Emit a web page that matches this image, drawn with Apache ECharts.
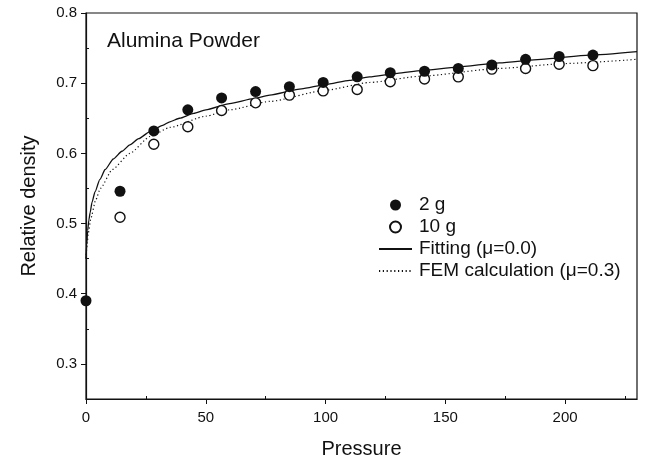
<!DOCTYPE html>
<html>
<head>
<meta charset="utf-8">
<script src="https://cdn.jsdelivr.net/npm/echarts@6/dist/echarts.min.js"></script>
<style>
  html, body { margin: 0; padding: 0; background: #ffffff; }
  #chart { width: 645px; height: 464px; }
</style>
</head>
<body>
<div id="chart"></div>
<script>
// Measured relative density of alumina powder vs. compaction pressure
const pressure2g = [0, 14.2, 28.3, 42.5, 56.6, 70.8, 84.9, 99.0, 113.2, 127.0, 141.3, 155.4, 169.4, 183.5, 197.5, 211.6];
const density2g  = [0.390, 0.546, 0.632, 0.662, 0.679, 0.688, 0.695, 0.701, 0.709, 0.715, 0.717, 0.721, 0.726, 0.734, 0.738, 0.740];

const pressure10g = [14.2, 28.3, 42.5, 56.6, 70.8, 84.9, 99.0, 113.2, 127.0, 141.3, 155.4, 169.4, 183.5, 197.5, 211.6];
const density10g  = [0.509, 0.613, 0.638, 0.661, 0.672, 0.683, 0.689, 0.691, 0.702, 0.706, 0.709, 0.720, 0.721, 0.727, 0.725];

// Fitted curve (mu = 0.0)
const fitPressure = [0, 0.3, 0.7, 1.2, 1.7, 2.5, 3.75, 5.8, 8, 11.4, 15, 18.3, 22, 26.7, 32, 35, 39, 45, 50, 60, 70, 76.7, 90, 100, 110, 118.3, 130, 140, 155, 172.5, 190, 210, 230];
const fitDensity  = [0.450, 0.470, 0.490, 0.505, 0.515, 0.530, 0.545, 0.563, 0.577, 0.592, 0.603, 0.612, 0.621, 0.631, 0.640, 0.645, 0.650, 0.657, 0.662, 0.671, 0.678, 0.683, 0.692, 0.698, 0.704, 0.709, 0.714, 0.718, 0.723, 0.729, 0.734, 0.740, 0.745];

// FEM calculation (mu = 0.3)
const femPressure = [0, 0.5, 1, 2, 4, 6, 11, 18.3, 26.7, 35, 50, 60, 76.7, 100, 118.3, 140, 172.5, 200, 230];
const femDensity  = [0.450, 0.472, 0.487, 0.507, 0.533, 0.550, 0.577, 0.600, 0.624, 0.637, 0.653, 0.662, 0.674, 0.690, 0.701, 0.710, 0.721, 0.728, 0.734];

const xMajorTicks = [0, 50, 100, 150, 200];
const xMinorTicks = [25, 75, 125, 175, 225];
const yMajorTicks = [0.3, 0.4, 0.5, 0.6, 0.7, 0.8];
const yMinorTicks = [0.35, 0.45, 0.55, 0.65, 0.75];

const seriesNames = ['2 g', '10 g', 'Fitting (\u03bc=0.0)', 'FEM calculation (\u03bc=0.3)'];
const panelLabel = 'Alumina Powder';

const zip = (xs, ys) => xs.map((x, i) => [x, ys[i]]);

const FONT = '"Liberation Sans", Arial, sans-serif';
const INK = '#111111';

const chart = echarts.init(document.getElementById('chart'), null, { renderer: 'canvas' });

const xBase = { type: 'value', min: 0, max: 230, gridIndex: 0, position: 'bottom', splitLine: { show: false } };
const yBase = { type: 'value', min: 0.25, max: 0.8, gridIndex: 0, position: 'left', splitLine: { show: false } };

chart.setOption({
  animation: false,
  backgroundColor: '#ffffff',
  textStyle: { fontFamily: FONT, color: INK },
  grid: {
    left: 86, right: 8, top: 13, bottom: 65,
    show: true, borderColor: INK, borderWidth: 1.2, backgroundColor: 'transparent'
  },
  xAxis: [
    Object.assign({}, xBase, {
      name: 'Pressure', nameLocation: 'middle', nameGap: 40,
      nameTextStyle: { fontSize: 20, color: INK, fontFamily: FONT },
      axisLine: { show: true, lineStyle: { color: INK, width: 1.2 } },
      axisTick: { show: true, length: 5, lineStyle: { color: INK }, customValues: xMajorTicks },
      axisLabel: { show: true, fontSize: 15, color: INK, margin: 11, customValues: xMajorTicks, fontFamily: FONT }
    }),
    Object.assign({}, xBase, {
      axisLine: { show: false },
      axisTick: { show: true, inside: true, length: 3, lineStyle: { color: INK }, customValues: xMinorTicks },
      axisLabel: { show: false }
    })
  ],
  yAxis: [
    Object.assign({}, yBase, {
      name: 'Relative density', nameLocation: 'middle', nameGap: 47, nameRotate: 90,
      nameTextStyle: { fontSize: 20, color: INK, fontFamily: FONT },
      axisLine: { show: true, lineStyle: { color: INK, width: 1.2 } },
      axisTick: { show: true, length: 5, lineStyle: { color: INK }, customValues: yMajorTicks },
      axisLabel: { show: true, fontSize: 15, color: INK, margin: 9, customValues: yMajorTicks,
                   fontFamily: FONT, formatter: v => v.toFixed(1) }
    }),
    Object.assign({}, yBase, {
      axisLine: { show: false },
      axisTick: { show: true, inside: true, length: 3, lineStyle: { color: INK }, customValues: yMinorTicks },
      axisLabel: { show: false }
    })
  ],
  legend: {
    orient: 'vertical', left: 378, top: 195, padding: 0,
    itemWidth: 33, itemHeight: 11, itemGap: 2,
    textStyle: { fontSize: 19, color: INK, fontFamily: FONT, lineHeight: 20, padding: [0, 0, 0, 2] },
    data: [
      { name: seriesNames[0] },
      { name: seriesNames[1] },
      { name: seriesNames[2], itemStyle: { opacity: 0 } },
      { name: seriesNames[3], itemStyle: { opacity: 0 } }
    ],
    selectedMode: false
  },
  graphic: [{
    type: 'text', left: 107, top: 31,
    style: { text: panelLabel, fontSize: 21, fill: INK, fontFamily: FONT }
  }],
  series: [
    {
      name: seriesNames[2], type: 'line', xAxisIndex: 0, yAxisIndex: 0,
      data: zip(fitPressure, fitDensity),
      symbol: 'none', smooth: 0.2, smoothMonotone: 'x',
      lineStyle: { color: INK, width: 1.3, type: 'solid' },
      itemStyle: { color: INK }, z: 3
    },
    {
      name: seriesNames[3], type: 'line', xAxisIndex: 0, yAxisIndex: 0,
      data: zip(femPressure, femDensity),
      symbol: 'none', smooth: 0.2, smoothMonotone: 'x',
      lineStyle: { color: INK, width: 1.2, type: [1.2, 2.6] },
      itemStyle: { color: INK }, z: 2
    },
    {
      name: seriesNames[0], type: 'scatter', xAxisIndex: 0, yAxisIndex: 0,
      data: zip(pressure2g, density2g),
      symbol: 'circle', symbolSize: 11,
      itemStyle: { color: INK, opacity: 1 }, z: 5
    },
    {
      name: seriesNames[1], type: 'scatter', xAxisIndex: 0, yAxisIndex: 0,
      data: zip(pressure10g, density10g),
      symbol: 'circle', symbolSize: 10,
      itemStyle: { color: '#ffffff', borderColor: INK, borderWidth: 1.4, opacity: 1 }, z: 4
    }
  ]
});
</script>
</body>
</html>
